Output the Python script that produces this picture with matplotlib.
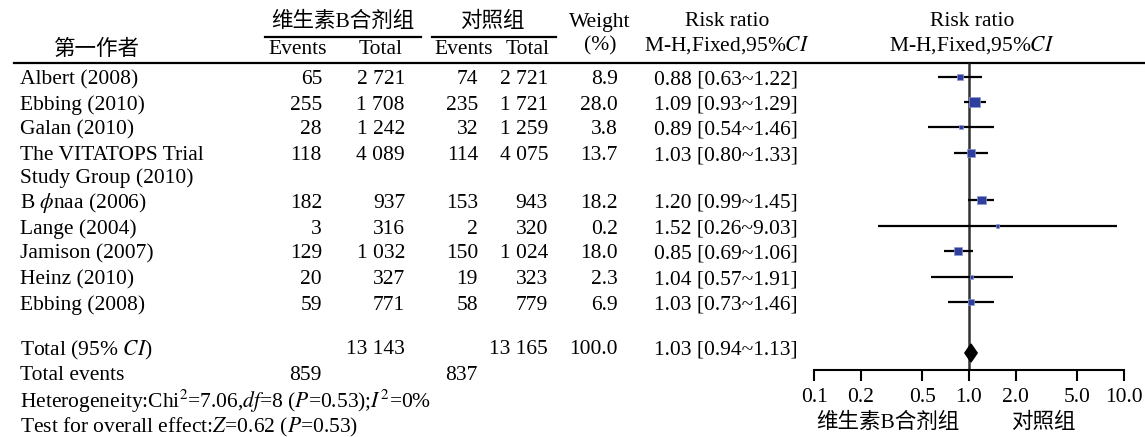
import matplotlib
matplotlib.use('Agg')
import matplotlib.pyplot as plt

plt.rcParams['font.family'] = ['Liberation Serif', 'Noto Sans CJK SC']
plt.rcParams['mathtext.fontset'] = 'stix'

# Study data
authors = ['Albert (2008)', 'Ebbing (2010)', 'Galan (2010)',
           'The VITATOPS Trial\nStudy Group (2010)', r'B $\phi$naa (2006)',
           'Lange (2004)', 'Jamison (2007)', 'Heinz (2010)', 'Ebbing (2008)']
ev1 = [65, 255, 28, 118, 182, 3, 129, 20, 59]
n1 = ['2 721', '1 708', '1 242', '4 089', '937', '316', '1 032', '327', '771']
ev2 = [74, 235, 32, 114, 153, 2, 150, 19, 58]
n2 = ['2 721', '1 721', '1 259', '4 075', '943', '320', '1 024', '323', '779']
weight = [8.9, 28.0, 3.8, 13.7, 18.2, 0.2, 18.0, 2.3, 6.9]
rr = [0.88, 1.09, 0.89, 1.03, 1.20, 1.52, 0.85, 1.04, 1.03]
lo = [0.63, 0.93, 0.54, 0.80, 0.99, 0.26, 0.69, 0.57, 0.73]
hi = [1.22, 1.29, 1.46, 1.33, 1.45, 9.03, 1.06, 1.91, 1.46]

# Pooled result
tot_n1, tot_n2 = '13 143', '13 165'
tot_ev1, tot_ev2 = 859, 837
tot_rr, tot_lo, tot_hi = 1.03, 0.94, 1.13

xticks = [0.1, 0.2, 0.5, 1.0, 2.0, 5.0, 10.0]
xticklabels = ['0.1', '0.2', '0.5', '1.0', '2.0', '5.0', '10.0']

# layout (pixel rows)
row_y = [80, 105, 130, 156, 203, 229, 254, 280, 305]
W, H = 1145, 437
fs = 15.5
sq_color = '#2E3F9E'

fig = plt.figure(figsize=(W / 100, H / 100), dpi=100)
fig.patch.set_facecolor('white')

# text layer in pixel coordinates
tx = fig.add_axes([0, 0, 1, 1])
tx.set_xlim(0, W)
tx.set_ylim(H, 0)
tx.axis('off')

# headers
tx.text(97, 50, '第一作者', ha='center', va='center', fontsize=fs)
tx.text(343, 22, '维生素B合剂组', ha='center', va='center', fontsize=fs)
tx.text(492, 22, '对照组', ha='center', va='center', fontsize=fs)
tx.plot([265, 421], [37, 37], color='black', lw=1.6)
tx.plot([432, 556], [37, 37], color='black', lw=1.6)
tx.text(298, 50, 'Events', ha='center', va='center', fontsize=fs)
tx.text(381, 50, 'Total', ha='center', va='center', fontsize=fs)
tx.text(464, 50, 'Events', ha='center', va='center', fontsize=fs)
tx.text(528, 50, 'Total', ha='center', va='center', fontsize=fs)
tx.text(600, 22, 'Weight', ha='center', va='center', fontsize=fs)
tx.text(600, 46, '(%)', ha='center', va='center', fontsize=fs)
tx.text(727, 22, 'Risk ratio', ha='center', va='center', fontsize=fs)
tx.text(727, 45, 'M-H,Fixed,95%$CI$', ha='center', va='center', fontsize=fs)
tx.text(972, 22, 'Risk ratio', ha='center', va='center', fontsize=fs)
tx.text(972, 45, 'M-H,Fixed,95%$CI$', ha='center', va='center', fontsize=fs)
tx.plot([14, W], [63, 63], color='black', lw=1.6)

# study rows
for i, y in enumerate(row_y):
    name = authors[i].split('\n')
    tx.text(20, y, name[0], ha='left', va='center', fontsize=fs)
    if len(name) > 1:
        tx.text(20, y + 22, name[1], ha='left', va='center', fontsize=fs)
    tx.text(322, y, str(ev1[i]), ha='right', va='center', fontsize=fs)
    tx.text(405, y, n1[i], ha='right', va='center', fontsize=fs)
    tx.text(478, y, str(ev2[i]), ha='right', va='center', fontsize=fs)
    tx.text(548, y, n2[i], ha='right', va='center', fontsize=fs)
    tx.text(618, y, f'{weight[i]:.1f}', ha='right', va='center', fontsize=fs)
    tx.text(798, y, f'{rr[i]:.2f} [{lo[i]:.2f}~{hi[i]:.2f}]', ha='right', va='center', fontsize=fs)

# totals
tx.text(20, 350, 'Total (95% $CI$)', ha='left', va='center', fontsize=fs)
tx.text(405, 350, tot_n1, ha='right', va='center', fontsize=fs)
tx.text(548, 350, tot_n2, ha='right', va='center', fontsize=fs)
tx.text(618, 350, f'{sum(weight):.1f}', ha='right', va='center', fontsize=fs)
tx.text(798, 350, f'{tot_rr:.2f} [{tot_lo:.2f}~{tot_hi:.2f}]', ha='right', va='center', fontsize=fs)
tx.text(20, 376, 'Total events', ha='left', va='center', fontsize=fs)
tx.text(322, 376, str(tot_ev1), ha='right', va='center', fontsize=fs)
tx.text(478, 376, str(tot_ev2), ha='right', va='center', fontsize=fs)
tx.text(20, 401, 'Heterogeneity:Chi$^{2}$=7.06,$df$=8 ($P$=0.53);$I^{2}$=0%',
        ha='left', va='center', fontsize=fs)
tx.text(20, 427, 'Test for overall effect:$Z$=0.62 ($P$=0.53)',
        ha='left', va='center', fontsize=fs)
tx.text(888, 423, '维生素B合剂组', ha='center', va='center', fontsize=fs)
tx.text(1043, 423, '对照组', ha='center', va='center', fontsize=fs)

# forest plot
ax = fig.add_axes([814 / W, 0, 310 / W, 1])
ax.set_facecolor('none')
ax.set_xscale('log')
ax.set_xlim(0.1, 10)
ax.set_ylim(H, 0)
for s in ['top', 'left', 'right']:
    ax.spines[s].set_visible(False)
ax.spines['bottom'].set_position(('data', 370))
ax.spines['bottom'].set_linewidth(1.5)
ax.set_yticks([])
ax.set_xticks(xticks)
ax.set_xticklabels(xticklabels, fontsize=fs)
ax.minorticks_off()
ax.tick_params(axis='x', direction='out', length=8, width=1.5, pad=5)

ax.vlines(1.0, 63, 370, color='#333333', lw=1.8, zorder=1)
sq_y = [y - 3 for y in row_y]
ax.hlines(sq_y, lo, hi, color='black', lw=1.6, zorder=2)
ax.scatter(rr, sq_y, s=[max(2.2 * w, 5) for w in weight], marker='s',
           color=sq_color, edgecolors='#8F9AD0', linewidths=0.5, zorder=3)
ax.fill([tot_lo, tot_rr, tot_hi, tot_rr], [353, 344, 353, 362], color='black', zorder=3)

fig.savefig('out.png', dpi=100, facecolor='white')
